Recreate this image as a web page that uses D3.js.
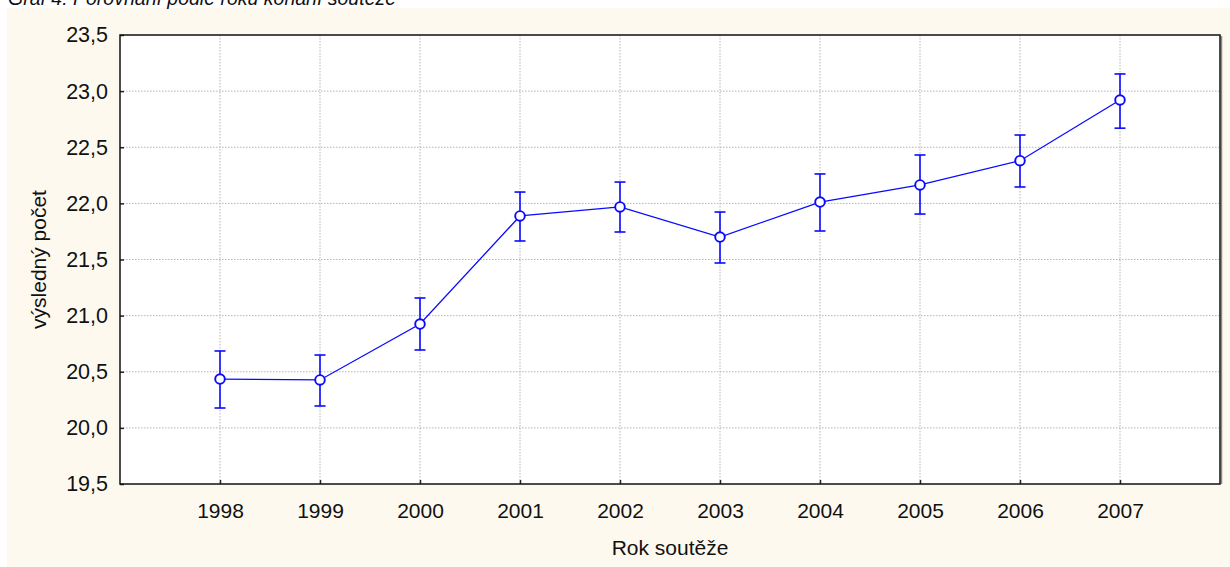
<!DOCTYPE html>
<html><head><meta charset="utf-8">
<script src="https://cdn.jsdelivr.net/npm/d3@7"></script>
<style>body{margin:0;background:#fff;} svg{display:block;font-family:"Liberation Sans",Arial,sans-serif;}</style>
</head><body>
<svg id="c" width="1230" height="567"></svg>
<script>
const years = [1998,1999,2000,2001,2002,2003,2004,2005,2006,2007];
const means = [20.435,20.427,20.925,21.888,21.968,21.700,22.012,22.164,22.380,22.921];
const upper = [20.685,20.649,21.157,22.101,22.190,21.923,22.262,22.431,22.609,23.153];
const lower = [20.177,20.195,20.694,21.665,21.745,21.469,21.754,21.905,22.146,22.670];
const yTicks = [19.5,20.0,20.5,21.0,21.5,22.0,22.5,23.0,23.5];
const titleText = "Graf 4: Porovnání podle roku konání soutěže";
const xTitle = "Rok soutěže";
const yTitle = "výsledný počet";

const FS = 21;
const svg = d3.select("#c");
svg.append("rect").attr("x",7).attr("y",8).attr("width",1223).attr("height",559).attr("fill","#fef9ef");
svg.append("text").attr("x",8).attr("y",5).attr("font-size",19.5).attr("font-style","italic").attr("fill","#111").text(titleText);

const L=120,R=1220,T=35,B=484;
const x = d3.scaleLinear().domain([1997,2008]).range([L,R]);
const y = d3.scaleLinear().domain([19.5,23.5]).range([B,T]);

svg.append("rect").attr("x",L).attr("y",T).attr("width",R-L).attr("height",B-T).attr("fill","#fff");

const g = svg.append("g");
g.selectAll(".gy").data(yTicks.slice(1,-1)).join("line")
 .attr("x1",L).attr("x2",R).attr("y1",d=>y(d)).attr("y2",d=>y(d))
 .attr("stroke","#b4b4b4").attr("stroke-width",1).attr("stroke-dasharray","1.5,1.5");
g.selectAll(".gx").data(years).join("line")
 .attr("y1",T).attr("y2",B).attr("x1",d=>x(d)).attr("x2",d=>x(d))
 .attr("stroke","#b4b4b4").attr("stroke-width",1).attr("stroke-dasharray","1.5,1.5");

// shadow
svg.append("line").attr("x1",R+1.5).attr("x2",R+1.5).attr("y1",T+1).attr("y2",B).attr("stroke","#888").attr("stroke-width",1.5);

// axes
const ax = svg.append("g").attr("transform",`translate(0,${B})`)
 .call(d3.axisBottom(x).tickValues(years).tickSize(-4).tickPadding(27).tickFormat(d3.format("d")));
const ay = svg.append("g").attr("transform",`translate(${L},0)`)
 .call(d3.axisLeft(y).tickValues(yTicks).tickSize(-4).tickPadding(12).tickFormat(d=>d3.format(".1f")(d).replace(".",",")));
[ax,ay].forEach(a=>{a.attr("font-size",FS).attr("font-family","Liberation Sans, Arial, sans-serif");
 a.select(".domain").remove();a.selectAll("line").attr("stroke","#222").attr("stroke-width",1.5);
 a.selectAll("text").attr("font-size",FS).attr("fill","#111");});
ay.selectAll("text").attr("font-size",21.5);
ax.selectAll("text").attr("dy","0.35em");

svg.append("rect").attr("x",L).attr("y",T).attr("width",R-L).attr("height",B-T).attr("fill","none").attr("stroke","#111").attr("stroke-width",1.5);

const blue="#0a0aff";
const data = years.map((yr,i)=>({yr,m:means[i],u:upper[i],l:lower[i]}));
svg.append("path").datum(data).attr("fill","none").attr("stroke",blue).attr("stroke-width",1.3)
 .attr("d",d3.line().x(d=>x(d.yr)).y(d=>y(d.m)));
const eb = svg.append("g").attr("stroke",blue).attr("stroke-width",1.6);
eb.selectAll(".v").data(data).join("line").attr("x1",d=>x(d.yr)).attr("x2",d=>x(d.yr)).attr("y1",d=>y(d.u)).attr("y2",d=>y(d.l));
eb.selectAll(".t").data(data).join("line").attr("x1",d=>x(d.yr)-5.5).attr("x2",d=>x(d.yr)+5.5).attr("y1",d=>y(d.u)).attr("y2",d=>y(d.u));
eb.selectAll(".b").data(data).join("line").attr("x1",d=>x(d.yr)-5.5).attr("x2",d=>x(d.yr)+5.5).attr("y1",d=>y(d.l)).attr("y2",d=>y(d.l));
svg.append("g").selectAll("circle").data(data).join("circle")
 .attr("cx",d=>x(d.yr)).attr("cy",d=>y(d.m)).attr("r",4.8).attr("fill","#fff").attr("stroke",blue).attr("stroke-width",1.9);

svg.append("text").attr("x",(L+R)/2).attr("y",555).attr("text-anchor","middle").attr("font-size",FS).attr("fill","#111").text(xTitle);
svg.append("text").attr("transform",`translate(46,${(T+B)/2}) rotate(-90)`).attr("text-anchor","middle").attr("font-size",FS).attr("fill","#111").text(yTitle);
</script>
</body></html>
